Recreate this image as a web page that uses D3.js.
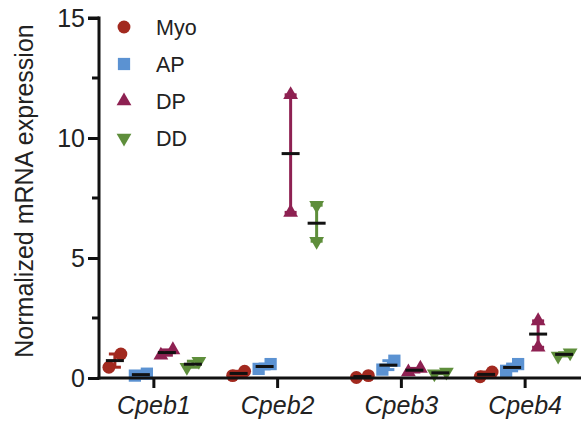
<!DOCTYPE html>
<html>
<head>
<meta charset="utf-8">
<script src="https://cdn.jsdelivr.net/npm/d3@7"></script>
<style>
  html, body { margin: 0; padding: 0; background: #fff; }
  svg { display: block; font-family: "Liberation Sans", Arial, sans-serif; }
</style>
</head>
<body>
<svg id="chart" width="581" height="424"></svg>
<script>
// genes on the x axis, cell types as series
const categories = ["Cpeb1", "Cpeb2", "Cpeb3", "Cpeb4"];
const series = ["Myo", "AP", "DP", "DD"];

// two replicates per gene
const myoValues = [[0.45, 1.0], [0.1, 0.28], [0.02, 0.1], [0.05, 0.25]];
const apValues  = [[0.1, 0.18], [0.38, 0.58], [0.35, 0.72], [0.3, 0.58]];
const dpValues  = [[0.95, 1.17], [6.9, 11.8], [0.25, 0.4], [1.28, 2.38]];
const ddValues  = [[0.45, 0.7], [5.7, 7.2], [0.18, 0.25], [0.92, 1.05]];

const yTicks = [0, 5, 10, 15];
const yMinorTicks = [2.5, 7.5, 12.5];

const colors = { Myo: "#a2291f", AP: "#5b92d2", DP: "#8e2152", DD: "#5e8e3b" };
const symbols = { Myo: d3.symbolCircle, AP: d3.symbolSquare, DP: d3.symbolTriangle, DD: d3.symbolTriangle };
const symbolSizes = { Myo: 130, AP: 150, DP: 95, DD: 95 };
const valuesBySeries = { Myo: myoValues, AP: apValues, DP: dpValues, DD: ddValues };

const svg = d3.select("#chart");
const axisY0 = 378, axisX0 = 99;

const x = d3.scaleBand().domain(categories).range([92, 587]);
const xSub = d3.scaleBand().domain(series).range([-52, 52]);
const y = d3.scaleLinear().domain([0, 15]).range([axisY0, 18]);

function symbolPath(s) {
  return d3.symbol().type(symbols[s]).size(symbolSizes[s])();
}

// flatten into groups
const groups = [];
series.forEach(s => {
  categories.forEach((c, i) => {
    const vals = valuesBySeries[s][i].slice().sort((a, b) => a - b);
    const mean = d3.mean(vals);
    const sem = d3.deviation(vals) / Math.sqrt(vals.length);
    const cx = x(c) + x.bandwidth() / 2 + xSub(s) + xSub.bandwidth() / 2;
    // spread points sideways when they would overlap
    const close = Math.abs(y(vals[0]) - y(vals[vals.length - 1])) < 15;
    const pts = vals.map((v, k) => ({ v, px: cx + (close ? (k === 0 ? -6 : 6) : 0) }));
    groups.push({ s, c, cx, mean, sem, pts });
  });
});

// points
const g = svg.append("g");
groups.forEach(d => {
  g.selectAll(null).data(d.pts).enter().append("path")
    .attr("d", symbolPath(d.s))
    .attr("transform", p => `translate(${p.px},${y(p.v)})` + (d.s === "DD" ? " rotate(180)" : ""))
    .attr("fill", colors[d.s]);
});

// error bars (mean ± SEM) and mean lines
groups.forEach(d => {
  const top = y(d.mean + d.sem), bot = y(d.mean - d.sem);
  g.append("line").attr("x1", d.cx).attr("x2", d.cx).attr("y1", top).attr("y2", bot)
    .attr("stroke", colors[d.s]).attr("stroke-width", 3);
  [top, bot].forEach(yy => {
    g.append("line").attr("x1", d.cx - 6).attr("x2", d.cx + 6).attr("y1", yy).attr("y2", yy)
      .attr("stroke", colors[d.s]).attr("stroke-width", 3);
  });
  g.append("line").attr("x1", d.cx - 9).attr("x2", d.cx + 9)
    .attr("y1", y(d.mean)).attr("y2", y(d.mean))
    .attr("stroke", "#111").attr("stroke-width", 3);
});

// y axis
const yAxis = svg.append("g").attr("transform", `translate(${axisX0},0)`)
  .call(d3.axisLeft(y).tickValues(yTicks).tickSize(11).tickSizeOuter(0).tickPadding(3));
yAxis.selectAll("text").attr("font-size", 25).attr("fill", "#222").attr("font-family", "Liberation Sans, Arial, sans-serif");
yAxis.selectAll("line").attr("stroke", "#111").attr("stroke-width", 3);
yAxis.select(".domain").attr("stroke", "#111").attr("stroke-width", 3)
  .attr("d", `M0,${axisY0 + 1.5}V${y(15) - 1.5}H-0`);
yAxis.selectAll(null).data(yMinorTicks).enter().append("line")
  .attr("x1", -7).attr("x2", 0).attr("y1", d => y(d)).attr("y2", d => y(d))
  .attr("stroke", "#111").attr("stroke-width", 3);
// short cap at the top of the axis
yAxis.append("line").attr("x1", -11).attr("x2", 0).attr("y1", y(15)).attr("y2", y(15))
  .attr("stroke", "#111").attr("stroke-width", 3);

// x axis
const xAxis = svg.append("g").attr("transform", `translate(0,${axisY0})`)
  .call(d3.axisBottom(x).tickSize(10).tickSizeOuter(0).tickPadding(8));
xAxis.select(".domain").attr("stroke", "#111").attr("stroke-width", 3)
  .attr("d", `M${axisX0 - 1.5},0H581`);
xAxis.selectAll("line").attr("stroke", "#111").attr("stroke-width", 3);
xAxis.selectAll("text").attr("font-size", 25).attr("font-style", "italic").attr("fill", "#222")
  .attr("font-family", "Liberation Sans, Arial, sans-serif");

// y title
svg.append("text")
  .attr("transform", "translate(33,191) rotate(-90)")
  .attr("text-anchor", "middle")
  .attr("font-size", 25)
  .attr("fill", "#222")
  .text("Normalized mRNA expression");

// legend
const legend = svg.append("g");
const legendY = d3.scalePoint().domain(series).range([27, 138]);
series.forEach(s => {
  legend.append("path")
    .attr("d", symbolPath(s))
    .attr("transform", `translate(124,${legendY(s)})` + (s === "DD" ? " rotate(180)" : ""))
    .attr("fill", colors[s]);
  legend.append("text")
    .attr("x", 156).attr("y", legendY(s)).attr("dy", "0.36em")
    .attr("font-size", 21.5).attr("fill", "#222")
    .text(s);
});
</script>
</body>
</html>
